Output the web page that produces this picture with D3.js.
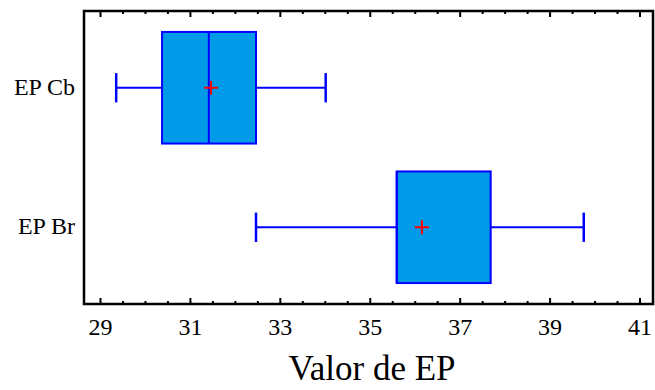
<!DOCTYPE html>
<html>
<head>
<meta charset="utf-8">
<script src="https://cdn.jsdelivr.net/npm/d3@7/dist/d3.min.js"></script>
<style>
  html, body { margin: 0; padding: 0; background: #fff; }
  svg { display: block; font-family: "Liberation Serif", "Times New Roman", serif; }
</style>
</head>
<body>
<svg id="chart" width="655" height="390"></svg>
<script>
// Box-and-whisker summary for each group
const categories  = ["EP Cb", "EP Br"];
const whiskerLow  = [29.36, 32.47];
const q1          = [30.38, 35.60];
const median      = [31.42, 35.60];
const q3          = [32.47, 37.69];
const whiskerHigh = [34.02, 39.76];
const means       = [31.47, 36.16];

const majorTicks = [29, 31, 33, 35, 37, 39, 41];
const xTitle = "Valor de EP";

const svg = d3.select("#chart");
const frame = { left: 84, right: 653, top: 11, bottom: 304 };

const x = d3.scaleLinear().domain([29, 41]).range([100, 639.5]);
const y = d3.scalePoint().domain(categories).range([frame.top, frame.bottom]).padding(0.55);
const boxH = y.step() * 0.8;
const capH = y.step() * 0.21;

const minorTicks = d3.range(29, 41.01, 0.5).filter(v => !majorTicks.includes(v));

// Ticks on the bottom and top edges, pointing into the plot
const bottomMajor = d3.axisBottom(x).tickValues(majorTicks).tickSize(-6).tickFormat(d3.format("d"));
const bottomMinor = d3.axisBottom(x).tickValues(minorTicks).tickSize(-3).tickFormat("");
const topMajor = d3.axisTop(x).tickValues(majorTicks).tickSize(-6).tickFormat("");
const topMinor = d3.axisTop(x).tickValues(minorTicks).tickSize(-3).tickFormat("");

function styleAxis(g) {
  g.select(".domain").remove();
  g.selectAll(".tick line").attr("stroke", "#000").attr("stroke-width", 2);
  g.selectAll(".tick text").attr("fill", "#000").attr("font-size", 24)
    .attr("font-family", "Liberation Serif, Times New Roman, serif");
}

svg.append("g").attr("transform", `translate(0,${frame.bottom})`).call(bottomMajor).call(styleAxis)
  .selectAll(".tick text").attr("y", 31).attr("dy", 0);
svg.append("g").attr("transform", `translate(0,${frame.bottom})`).call(bottomMinor).call(styleAxis);
svg.append("g").attr("transform", `translate(0,${frame.top})`).call(topMajor).call(styleAxis);
svg.append("g").attr("transform", `translate(0,${frame.top})`).call(topMinor).call(styleAxis);

// Plot frame
svg.append("rect")
  .attr("x", frame.left).attr("y", frame.top)
  .attr("width", frame.right - frame.left).attr("height", frame.bottom - frame.top)
  .attr("fill", "none").attr("stroke", "#000").attr("stroke-width", 2.5);

// Category labels
svg.append("g").selectAll("text").data(categories).join("text")
  .attr("x", 75).attr("y", d => y(d) + 7)
  .attr("text-anchor", "end").attr("font-size", 24).attr("fill", "#000")
  .text(d => d);

const rows = categories.map((c, i) => ({
  c, lo: whiskerLow[i], q1: q1[i], med: median[i], q3: q3[i], hi: whiskerHigh[i], mean: means[i]
}));

const boxes = svg.append("g").selectAll("g").data(rows).join("g");
const blue = "#0000ff";

// Whiskers
boxes.append("line")
  .attr("x1", d => x(d.lo)).attr("x2", d => x(d.q1))
  .attr("y1", d => y(d.c)).attr("y2", d => y(d.c))
  .attr("stroke", blue).attr("stroke-width", 2);
boxes.append("line")
  .attr("x1", d => x(d.q3)).attr("x2", d => x(d.hi))
  .attr("y1", d => y(d.c)).attr("y2", d => y(d.c))
  .attr("stroke", blue).attr("stroke-width", 2);
boxes.selectAll(".cap").data(d => [[d.lo, d.c], [d.hi, d.c]]).join("line")
  .attr("class", "cap")
  .attr("x1", d => x(d[0])).attr("x2", d => x(d[0]))
  .attr("y1", d => y(d[1]) - capH / 2).attr("y2", d => y(d[1]) + capH / 2)
  .attr("stroke", blue).attr("stroke-width", 2.5);

// Box
boxes.append("rect")
  .attr("x", d => x(d.q1)).attr("width", d => x(d.q3) - x(d.q1))
  .attr("y", d => y(d.c) - boxH / 2).attr("height", boxH)
  .attr("fill", "#009be8").attr("stroke", blue).attr("stroke-width", 2);

// Median
boxes.append("line")
  .attr("x1", d => x(d.med)).attr("x2", d => x(d.med))
  .attr("y1", d => y(d.c) - boxH / 2).attr("y2", d => y(d.c) + boxH / 2)
  .attr("stroke", blue).attr("stroke-width", 2);

// Mean marker
const m = 7;
boxes.append("path")
  .attr("d", d => `M${x(d.mean) - m},${y(d.c)}H${x(d.mean) + m}M${x(d.mean)},${y(d.c) - m}V${y(d.c) + m}`)
  .attr("stroke", "#ff0000").attr("stroke-width", 2).attr("fill", "none");

// Axis title
svg.append("text")
  .attr("x", 372).attr("y", 380)
  .attr("text-anchor", "middle").attr("font-size", 35).attr("fill", "#000")
  .text(xTitle);
</script>
</body>
</html>
